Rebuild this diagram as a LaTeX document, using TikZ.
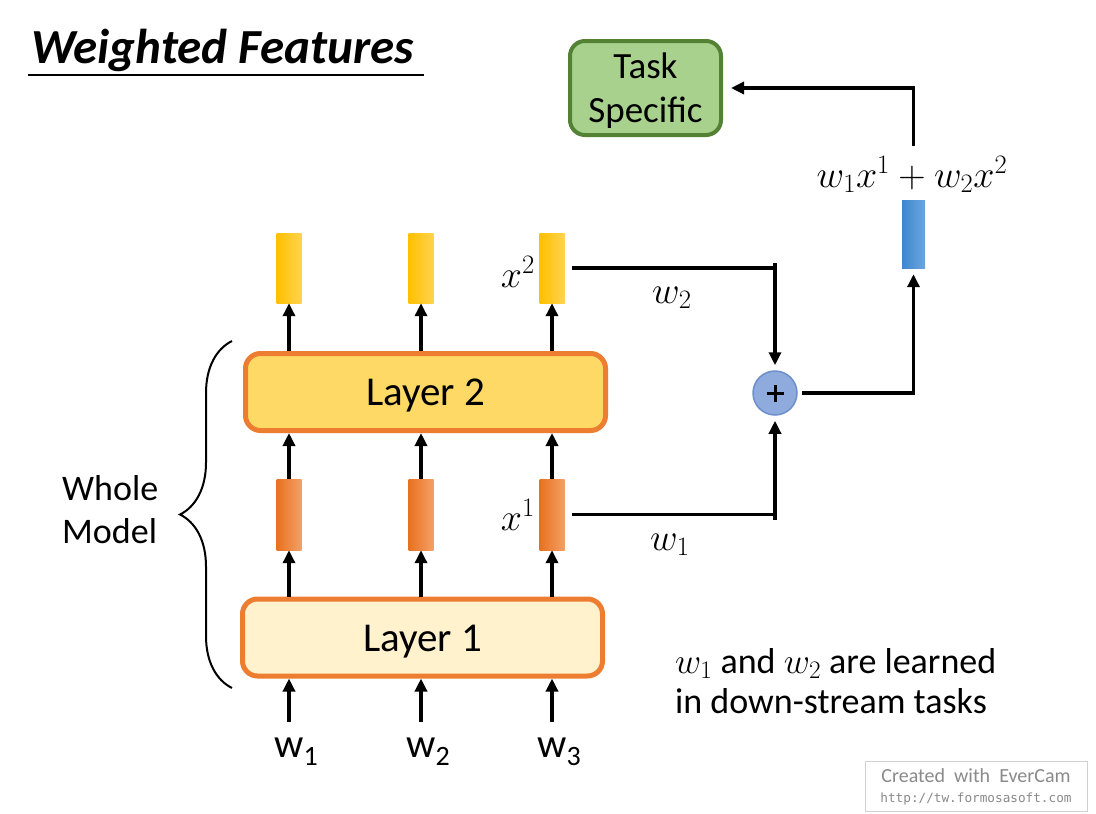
\RequirePackage{fix-cm}
\documentclass[tikz,border=0pt]{standalone}
\usepackage{fontspec}
\setmainfont{Carlito}
\newfontfamily\wmmono{DejaVu Sans Mono}
\usetikzlibrary{arrows.meta,decorations.pathreplacing,calc}
\definecolor{taskfill}{HTML}{A9D18E}
\definecolor{taskdraw}{HTML}{548235}
\definecolor{lay2}{HTML}{FFD966}
\definecolor{lay1}{HTML}{FFF2CC}
\definecolor{laydraw}{HTML}{ED7D31}
\definecolor{yL}{HTML}{FFC000}
\definecolor{yR}{HTML}{FFD34F}
\definecolor{oL}{HTML}{E8711F}
\definecolor{oR}{HTML}{F4A065}
\definecolor{bL}{HTML}{3D87D0}
\definecolor{bR}{HTML}{6CA6DE}
\definecolor{plusfill}{HTML}{8FAADC}
\definecolor{plusdraw}{HTML}{6D8FCB}
\definecolor{wmgray}{HTML}{8A8A8A}
\begin{document}
\begin{tikzpicture}[x=1pt,y=-1pt,
  arr/.style={line width=3.5pt,-{Triangle[length=13pt,width=12pt]}},
  ln/.style={line width=3.5pt},
  bar/.style={minimum width=25pt,minimum height=70pt,inner sep=0pt,draw=none},
  ybar/.style={bar,left color=yL,right color=yR},
  obar/.style={bar,minimum height=71pt,left color=oL,right color=oR},
  bbar/.style={bar,minimum width=23pt,minimum height=68pt,left color=bL,right color=bR},
  layerbox/.style={draw=laydraw,line width=5pt,rounded corners=15pt,minimum width=360pt,minimum height=77pt,inner sep=0pt,text height=27pt,text depth=0pt,font=\fontsize{41}{41}\selectfont},
  taskbox/.style={draw=taskdraw,fill=taskfill,line width=4pt,rounded corners=15pt,minimum width=151pt,minimum height=94pt,inner sep=0pt,align=center,text depth=0pt,font=\fontsize{37}{44}\selectfont},
  txt/.style={inner sep=0pt,font=\fontsize{36}{43}\selectfont},
  mtxt/.style={inner sep=0pt,font=\fontsize{38}{44}\selectfont},
  inlbl/.style={inner sep=0pt,anchor=base,font=\fontsize{41}{41}\selectfont},
]
\useasboundingbox (0,0) rectangle (1096,814);
\fill[white] (0,0) rectangle (1096,814);

% title
\node[anchor=base west,inner sep=0pt,font=\fontsize{49}{58}\selectfont\bfseries\itshape] (title) at (31,63) {Weighted Features};
\draw[line width=2pt] (28,75) -- (424,75);

% task box
\node[taskbox] (task) at (645.5,88) {Task\\Specific};

% bars
\node[ybar] (y1) at (289,268) {};
\node[ybar] (y2) at (421,268) {};
\node[ybar] (y3) at (552,268) {};
\node[obar] (o1) at (289,514.5) {};
\node[obar] (o2) at (421,514.5) {};
\node[obar] (o3) at (552,514.5) {};
\node[bbar] (blue) at (913.5,234) {};

% layers
\node[layerbox,fill=lay2] (L2) at (425.5,392) {Layer 2};
\node[layerbox,fill=lay1] (L1) at (422.5,637.5) {Layer 1};

% plus
\node[circle,draw=plusdraw,fill=plusfill,line width=1.5pt,minimum size=44pt,inner sep=0pt] (plus) at (775,393) {};
\draw[line width=3pt] ([xshift=-8.5pt]plus.center) -- ([xshift=8.5pt]plus.center);
\draw[line width=3pt] ([yshift=-8.5pt]plus.center) -- ([yshift=8.5pt]plus.center);

% inputs
\node[inlbl] (in1) at (289,757) {w\rlap{\raisebox{-8pt}{\fontsize{28}{28}\selectfont 1}}};
\node[inlbl] (in2) at (421,757) {w\rlap{\raisebox{-8pt}{\fontsize{28}{28}\selectfont 2}}};
\node[inlbl] (in3) at (552,757) {w\rlap{\raisebox{-8pt}{\fontsize{28}{28}\selectfont 3}}};

% labels
\node[mtxt,anchor=base east] (x2) at (535,287) {$x^2$};
\node[mtxt,anchor=base east] (x1) at (535,530) {$x^1$};
\node[mtxt,anchor=base west] (lw2) at (652,303) {$w_2$};
\node[mtxt,anchor=base west] (lw1) at (650,550) {$w_1$};
\node[mtxt,anchor=base] (sum) at (912,187) {$w_1x^1+w_2x^2$};

\node[txt,anchor=base west] (whole) at (62,500) {Whole};
\node[txt,anchor=base west] (model) at (62,543) {Model};

\node[txt,anchor=base west] (note1) at (675,673) {$w_1$ and $w_2$ are learned};
\node[txt,anchor=base west] (note2) at (675,713) {in down-stream tasks};

% brace
\draw[line width=2pt,decorate,decoration={brace,amplitude=52pt,aspect=0.5}] (232,688) -- (232,341);

% arrows in the stack
\foreach \c in {1,2,3}{
  \draw[arr] (in\c.north) ++(0,-15) -- (L1.south -| in\c);
  \draw[arr] (L1.north -| o\c) -- (o\c.south);
  \draw[arr] (o\c.north) -- (L2.south -| o\c);
  \draw[arr] (L2.north -| y\c) -- (y\c.south);
}

% weighted connections
\draw[ln] ([xshift=7pt]y3.east) -- (y3.east -| plus);
\draw[arr,shorten >=5pt] ([yshift=5pt]y3.east -| plus) -- (plus.north);
\draw[ln] ([xshift=7pt]o3.east) -- (o3.east -| plus);
\draw[arr,shorten >=5pt] ([yshift=-5pt]o3.east -| plus) -- (plus.south);
\draw[arr,shorten >=6pt] ([xshift=4pt]plus.east) -| (blue.south);
\coordinate (up) at ($(sum.north -| blue)+(0,-10)$);
\draw[arr] (up) |- ([xshift=8pt]task.east);

% watermark
\node[draw=black!18,line width=1pt,minimum width=222pt,minimum height=50pt,inner sep=0pt] (wm) at (976,786) {};
\node[inner sep=0pt,anchor=base,text=wmgray,font=\fontsize{20}{20}\selectfont] (wm1) at (976,782) {Created\ \ with\ \ EverCam};
\node[inner sep=0pt,anchor=base,text=wmgray,font=\wmmono\fontsize{12.7}{13}\selectfont] (wm2) at (976,802) {http://tw.formosasoft.com};
\end{tikzpicture}
\end{document}
